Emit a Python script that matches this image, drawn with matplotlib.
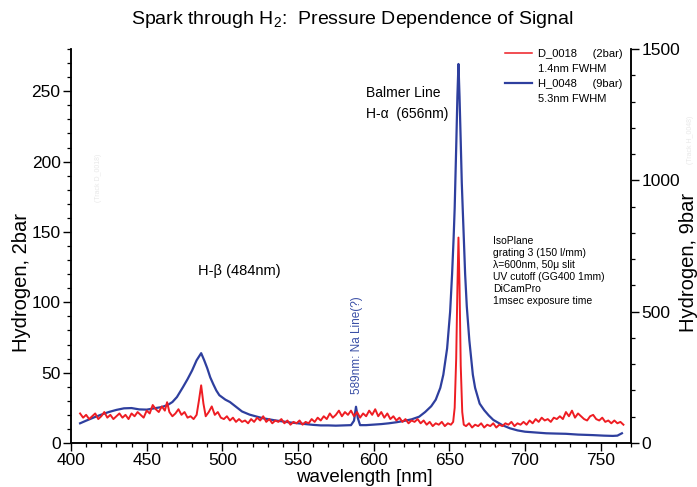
import numpy as np
import matplotlib

matplotlib.use("Agg")

import matplotlib.pyplot as plt
from matplotlib.lines import Line2D
from matplotlib.ticker import MultipleLocator

plt.rcParams["font.family"] = ["Liberation Sans", "DejaVu Sans"]
plt.rcParams["mathtext.fontset"] = "custom"
plt.rcParams["mathtext.rm"] = "Liberation Sans"
plt.rcParams["mathtext.default"] = "rm"

# ----- Data -----
# D_0018, 2bar, left axis
red_nm = [406, 408, 410, 412, 414, 416, 418, 420, 422, 424, 426, 428, 430, 432, 434, 436, 438, 440,
          442, 444, 446, 448, 450, 452, 454, 456, 458, 460, 462, 463.5, 465, 467, 469, 471, 473, 475,
          477, 479, 481, 483, 484.5, 486, 487.5, 489, 491, 493, 495, 497, 499, 501, 503, 505, 507,
          509, 511, 513, 515, 517, 519, 521, 523, 525, 527, 529, 531, 533, 535, 537, 539, 541, 543,
          545, 547, 549, 551, 553, 555, 557, 559, 561, 563, 565, 567, 569, 571, 573, 575, 577, 579,
          581, 583, 585, 587, 589, 591, 593, 595, 597, 599, 601, 603, 605, 607, 609, 611, 613, 615,
          617, 619, 621, 623, 625, 627, 629, 631, 633, 635, 637, 639, 641, 643, 645, 647, 649, 651,
          652.5, 653.5, 654.5, 655.3, 656, 656.7, 657.5, 658.5, 659.5, 661, 663, 665, 667, 669, 671,
          673, 675, 677, 679, 681, 683, 685, 687, 689, 691, 693, 695, 697, 699, 701, 703, 705, 707,
          709, 711, 713, 715, 717, 719, 721, 723, 725, 727, 729, 731, 733, 735, 737, 739, 741, 743,
          745, 747, 749, 751, 753, 755, 757, 759, 761, 763, 765]
red_val = [21, 18, 20, 17, 19, 21, 17, 19, 22, 18, 20, 17, 19, 21, 18, 20, 17, 21,
           19, 22, 20, 18, 23, 21, 27, 24, 22, 26, 23, 29, 22, 19, 21, 24, 20, 22,
           18, 19, 17, 20, 30, 41, 28, 19, 22, 26, 20, 22, 18, 17, 19, 16, 18,
           15, 17, 15, 16, 14, 17, 15, 18, 16, 19, 15, 17, 14, 16, 15, 17, 14, 16,
           13, 15, 14, 16, 13, 15, 14, 17, 15, 18, 16, 19, 17, 21, 18, 20, 23, 19,
           22, 20, 23, 19, 22, 18, 21, 19, 23, 20, 24, 19, 22, 18, 21, 17, 19, 16,
           18, 15, 17, 14, 16, 15, 17, 14, 16, 13, 15, 12, 14, 13, 15, 12, 14, 13,
           15, 25, 60, 110, 146, 112, 55, 22, 13, 12, 14, 11, 13, 12, 14,
           11, 13, 12, 14, 11, 13, 12, 14, 13, 15, 12, 14, 13, 15, 13, 16, 14, 17,
           15, 18, 16, 17, 15, 18, 17, 19, 17, 22, 19, 23, 18, 21, 19, 17, 16, 19,
           20, 17, 16, 18, 15, 16, 14, 16, 14, 15, 13]

# H_0048, 9bar, right axis
blue_nm = [406, 410, 415, 420, 425, 430, 435, 440, 445, 450, 455, 460, 464, 467, 470, 474, 477,
           480, 483, 486, 488, 490, 492, 494, 496, 498, 502, 505, 509, 513, 518, 523, 527, 531,
           535, 540, 545, 550, 555, 560, 565, 570, 575, 580, 585, 587, 588.3, 589.5, 591, 595,
           600, 605, 610, 615, 620, 625, 630, 634, 638, 641, 644, 646, 648.5, 650.5, 651.8,
           652.8, 653.5, 654.6, 655.3, 656, 656.7, 657.5, 658.2, 658.8, 659.6, 660.4, 661.5,
           663.2, 665.5, 667, 670, 673, 676, 679, 685, 690, 695, 700, 707, 714, 720, 727, 735,
           745, 752, 758, 761, 764]
blue_val = [75, 85, 97, 108, 118, 126, 132, 133, 128, 127, 132, 137, 145, 156, 175, 213, 243,
            276, 315, 342, 315, 285, 250, 224, 200, 182, 165, 156, 138, 120, 108, 100, 94, 90,
            86, 82, 78, 75, 72, 69, 67, 67, 66, 67, 68, 85, 138, 95, 68, 68,
            70, 72, 75, 79, 84, 90, 100, 118, 140, 165, 210, 260, 360, 500, 644,
            780, 894, 1148, 1320, 1443, 1320, 1148, 990, 894, 770, 644, 520,
            390, 260, 210, 150, 125, 105, 88, 68, 56, 48, 43, 40, 37, 36, 35, 32,
            30, 28, 27, 28, 37]

red_c = "#ee1d23"
blue_c = "#2e3f9e"

# ----- Figure -----
fig = plt.figure(figsize=(6.97, 4.87), dpi=100)
ax = fig.add_axes([71 / 697, 44 / 487, 560 / 697, 394 / 487])
ax2 = ax.twinx()

ax.plot(red_nm, red_val, color=red_c, lw=1.4, zorder=3)
ax2.plot(blue_nm, blue_val, color=blue_c, lw=1.6, zorder=2)
ax.set_zorder(ax2.get_zorder() + 1)
ax.patch.set_visible(False)

ax.set_xlim(400, 770)
ax.set_ylim(0, 280)
ax2.set_ylim(0, 1500)

ax.xaxis.set_major_locator(MultipleLocator(50))
ax.xaxis.set_minor_locator(MultipleLocator(10))
ax.yaxis.set_major_locator(MultipleLocator(50))
ax.yaxis.set_minor_locator(MultipleLocator(10))
ax2.yaxis.set_major_locator(MultipleLocator(500))
ax2.yaxis.set_minor_locator(MultipleLocator(100))

for a in (ax, ax2):
    a.spines["top"].set_visible(False)
    for s in a.spines.values():
        s.set_linewidth(1.1)
    a.tick_params(which="major", direction="out", length=5.5, width=1.0, labelsize=12.5, pad=2)
    a.tick_params(which="minor", direction="out", length=3, width=0.9)

# ----- Labels -----
fig.text(352 / 697, 1 - 20 / 487, "Spark through H$_2$:  Pressure Dependence of Signal",
         ha="center", va="center", fontsize=14)
fig.text(364 / 697, 1 - 477 / 487, "wavelength [nm]", ha="center", va="center", fontsize=13.5)
fig.text(22 / 697, 1 - 283 / 487, "Hydrogen, 2bar", rotation=90, ha="center", va="center", fontsize=14.5)
fig.text(688 / 697, 1 - 262 / 487, "Hydrogen, 9bar", rotation=90, ha="center", va="center", fontsize=14.5)

# faint track stamps
fig.text(98 / 697, 1 - 178 / 487, "(Track D_0018)", rotation=90, ha="center", va="center",
         fontsize=5, color="#e8e8e8")
fig.text(690 / 697, 1 - 140 / 487, "(Track H_0048)", rotation=90, ha="center", va="center",
         fontsize=5, color="#e8e8e8")

# ----- Annotations -----
ax.text(595, 254, "Balmer Line\nH-\u03b1  (656nm)", ha="left", va="top", fontsize=10,
        linespacing=1.65)
ax.text(484, 122, "H-\u03b2 (484nm)", ha="left", va="center", fontsize=10.5)
ax.text(589, 35, "589nm: Na Line(?)", rotation=90, ha="center", va="bottom", fontsize=8.5,
        color="#3a4fa6")
ax.text(679, 147, "IsoPlane\ngrating 3 (150 l/mm)\n\u03bb=600nm, 50\u03bc slit\nUV cutoff (GG400 1mm)\n"
        "DiCamPro\n1msec exposure time", ha="left", va="top", fontsize=7.5, linespacing=1.25)

# ----- Legend -----
blank = Line2D([], [], color="none")
handles = [Line2D([], [], color=red_c, lw=1.1), blank, Line2D([], [], color=blue_c, lw=1.6), blank]
labels = ["D_0018     (2bar)", "1.4nm FWHM", "H_0048     (9bar)", "5.3nm FWHM"]
fig.legend(handles, labels, loc="upper left", bbox_to_anchor=(505 / 697, 1 - 49 / 487),
           frameon=False, fontsize=8, handlelength=2.4, handletextpad=0.6,
           labelspacing=0.45, borderpad=0.0, borderaxespad=0.0)

fig.savefig("out.png", dpi=100)
